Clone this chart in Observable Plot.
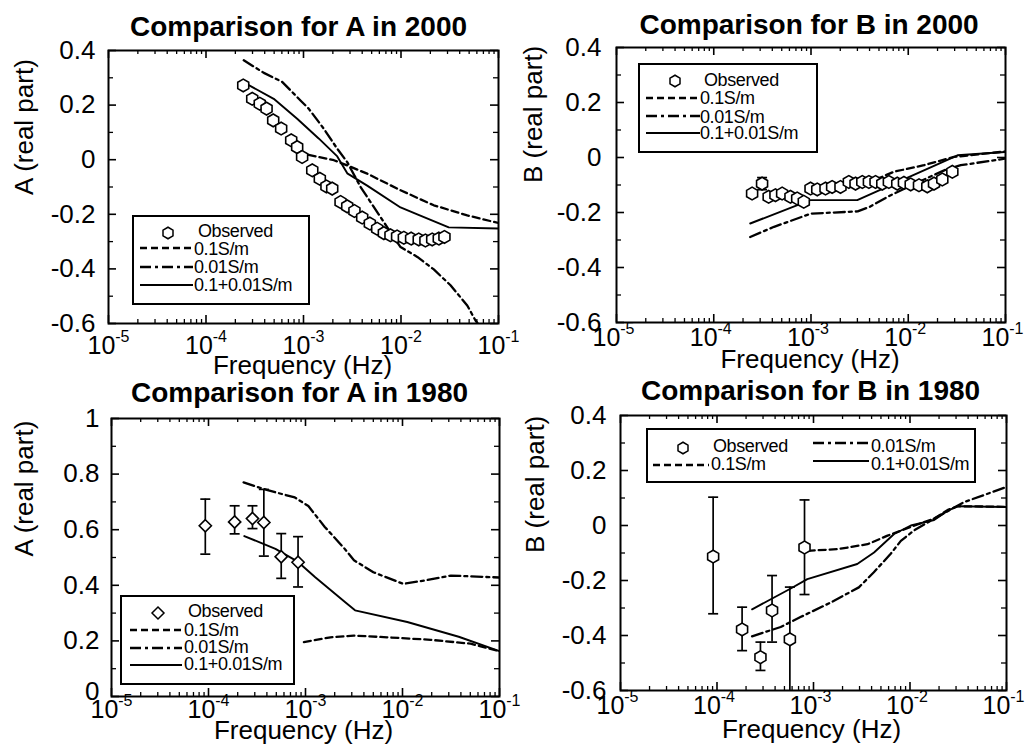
<!DOCTYPE html>
<html><head><meta charset="utf-8">
<script src="https://cdn.jsdelivr.net/npm/d3@7"></script>
<script src="https://cdn.jsdelivr.net/npm/@observablehq/plot@0.6"></script>
<style>
body{margin:0;background:#fff;}
#root{position:relative;width:1027px;height:746px;overflow:hidden;background:#fff;font-family:"Liberation Sans",Arial,sans-serif;}
.panel{position:absolute;}
.legend{position:absolute;}
</style></head><body><div id="root"></div>
<script>
// ---------- shared axis data ----------
const seriesNames = ["Observed", "0.1S/m", "0.01S/m", "0.1+0.01S/m"];
const decadeTicks = [1e-5, 1e-4, 1e-3, 1e-2, 1e-1];
const minorMult = [2, 3, 4, 5, 6, 7, 8, 9];
const yTicksB = [-0.6, -0.4, -0.2, 0, 0.2, 0.4];
const yMinorB = [-0.5, -0.3, -0.1, 0.1, 0.3];
const yTicksA80 = [0, 0.2, 0.4, 0.6, 0.8, 1];
const yMinorA80 = [0.1, 0.3, 0.5, 0.7, 0.9];

// ---------- A in 2000 ----------
const a2000ObsF = [2.41e-4,2.98e-4,3.56e-4,4.18e-4,4.89e-4,5.90e-4,7.48e-4,8.61e-4,9.68e-4,1.23e-3,1.47e-3,1.72e-3,1.97e-3,2.40e-3,2.81e-3,3.33e-3,4.00e-3,4.79e-3,5.70e-3,6.67e-3,7.80e-3,9.12e-3,1.07e-2,1.27e-2,1.52e-2,1.78e-2,2.09e-2,2.44e-2,2.79e-2];
const a2000ObsV = [0.272,0.223,0.205,0.187,0.144,0.114,0.071,0.046,0.010,-0.039,-0.070,-0.098,-0.106,-0.155,-0.171,-0.188,-0.212,-0.234,-0.253,-0.269,-0.277,-0.281,-0.286,-0.289,-0.292,-0.296,-0.292,-0.289,-0.283];
const a2000S1F = [1.13e-3,2.05e-3,2.81e-3,4.50e-3,9.89e-3,2.17e-2,4.78e-2,1e-1];
const a2000S1V = [0.018,-0.002,-0.021,-0.051,-0.112,-0.167,-0.204,-0.232];
const a2000S2F = [2.44e-4,3.92e-4,6.04e-4,9.31e-4,1.13e-3,1.61e-3,2.22e-3,2.81e-3,3.85e-3,5.70e-3,7.21e-3,9.89e-3,1.47e-2,2.17e-2,3.22e-2,4.78e-2,5.81e-2,1e-1];
const a2000S2V = [0.364,0.318,0.285,0.217,0.187,0.114,0.040,-0.009,-0.100,-0.192,-0.247,-0.320,-0.356,-0.402,-0.460,-0.534,-0.589,-0.700];
const a2000S3F = [2.44e-4,4.95e-4,8.61e-4,1.44e-3,2.22e-3,2.81e-3,4.50e-3,9.89e-3,1.47e-2,3.09e-2,1e-1];
const a2000S3V = [0.283,0.223,0.150,0.077,0.012,-0.050,-0.095,-0.175,-0.200,-0.248,-0.252];

// ---------- B in 2000 ----------
const b2000ObsF = [2.48e-4,3.14e-4,3.67e-4,4.31e-4,5.05e-4,6.15e-4,7.21e-4,8.43e-4,9.89e-4,1.16e-3,1.41e-3,1.65e-3,2.01e-3,2.45e-3,2.87e-3,3.37e-3,3.94e-3,4.61e-3,5.41e-3,6.32e-3,7.71e-3,9.03e-3,1.06e-2,1.29e-2,1.57e-2,1.84e-2,2.24e-2,2.84e-2];
const b2000ObsV = [-0.131,-0.095,-0.143,-0.137,-0.131,-0.143,-0.149,-0.161,-0.113,-0.116,-0.113,-0.107,-0.107,-0.089,-0.095,-0.089,-0.089,-0.089,-0.095,-0.089,-0.095,-0.092,-0.098,-0.101,-0.105,-0.095,-0.080,-0.052];
const b2000ErrF = [3.14e-4];
const b2000ErrLo = [-0.117];
const b2000ErrHi = [-0.073];
const b2000S1F = [1e-3,2.51e-3,5.01e-3,7.08e-3,1.45e-2,2.95e-2,1e-1];
const b2000S1V = [-0.125,-0.100,-0.075,-0.052,-0.028,0.002,0.022];
const b2000S2F = [2.37e-4,4.17e-4,1e-3,3.02e-3,3.98e-3,6.61e-3,1.26e-2,2.51e-2,3.47e-2,1e-1];
const b2000S2V = [-0.289,-0.252,-0.204,-0.196,-0.180,-0.137,-0.090,-0.042,-0.028,-0.004];
const b2000S3F = [2.37e-4,9.82e-4,2.99e-3,3.21e-2,1e-1];
const b2000S3V = [-0.240,-0.155,-0.155,0.008,0.020];

// ---------- A in 1980 ----------
const a1980ObsF = [9.27e-5,1.86e-4,2.84e-4,3.72e-4,5.62e-4,8.38e-4];
const a1980ObsV = [0.614,0.628,0.640,0.626,0.503,0.483];
const a1980ErrHi = [0.710,0.686,0.686,0.745,0.586,0.575];
const a1980ErrLo = [0.512,0.585,0.604,0.505,0.425,0.394];
const a1980S1F = [9.62e-4,1.81e-3,3.15e-3,6.95e-3,1.95e-2,5.02e-2,1e-1];
const a1980S1V = [0.196,0.213,0.219,0.213,0.204,0.190,0.163];
const a1980S2F = [2.30e-4,4.07e-4,7.76e-4,1.07e-3,1.58e-3,2.51e-3,3.16e-3,5.01e-3,1.02e-2,1.74e-2,3.16e-2,1e-1];
const a1980S2V = [0.770,0.742,0.716,0.685,0.610,0.533,0.490,0.447,0.405,0.418,0.435,0.428];
const a1980S3F = [2.34e-4,4.90e-4,8.32e-4,1.26e-3,2.57e-3,3.24e-3,1.12e-2,3.80e-2,1e-1];
const a1980S3V = [0.577,0.531,0.485,0.429,0.339,0.310,0.268,0.215,0.163];

// ---------- B in 1980 ----------
const b1980ObsF = [9.12e-5,1.82e-4,2.82e-4,3.72e-4,5.69e-4,8.07e-4];
const b1980ObsV = [-0.113,-0.378,-0.479,-0.309,-0.414,-0.080];
const b1980ErrHi = [0.103,-0.297,-0.424,-0.182,-0.224,0.093];
const b1980ErrLo = [-0.321,-0.455,-0.527,-0.424,-0.650,-0.251];
const b1980S1F = [8.71e-4,1.78e-3,3.63e-3,5.85e-3,1.10e-2,1.78e-2,2.51e-2,3.16e-2,1e-1];
const b1980S1V = [-0.092,-0.086,-0.068,-0.037,-0.001,0.025,0.058,0.070,0.068];
const b1980S2F = [2.31e-4,4.57e-4,7.33e-4,1.51e-3,2.95e-3,4.22e-3,6.31e-3,8.04e-3,1.10e-2,1.78e-2,2.63e-2,3.63e-2,1e-1];
const b1980S2V = [-0.403,-0.369,-0.333,-0.280,-0.225,-0.170,-0.103,-0.056,-0.018,0.025,0.058,0.085,0.140];
const b1980S3F = [2.31e-4,5.75e-4,8.63e-4,2.84e-3,4.24e-3,6.84e-3,1.02e-2,1.78e-2,2.42e-2,3.08e-2,1e-1];
const b1980S3V = [-0.305,-0.230,-0.195,-0.140,-0.098,-0.031,0.000,0.020,0.052,0.070,0.067];

// ---------- helpers ----------
const xMinorTicks = decadeTicks.slice(0, 4).flatMap(d => minorMult.map(m => m * d));
const rows = (F, V) => F.map((f, i) => ({f, v: V[i]}));
const errRows = (F, lo, hi) => F.map((f, i) => ({f, lo: lo[i], hi: hi[i]}));
const DASH = "7,4", DASHDOT = "11,4,3,4";
const capSymbol = {draw(ctx) { ctx.moveTo(-5, 0); ctx.lineTo(5, 0); }};
const root = document.getElementById("root");

function panel(c) {
  const iw = c.width - c.ml - c.mr, ih = c.height - c.mt - c.mb;
  const marks = [
    Plot.axisX({ticks: decadeTicks, tickFormat: d => String(Math.round(Math.log10(d))), tickSize: 0, tickPadding: c.xPad, dx: c.xTickDx || 0, fontSize: 25, label: null}),
    Plot.axisY({ticks: c.yTicks, tickFormat: d => String(d), tickSize: 0, tickPadding: c.yPad, fontSize: 26, label: null}),
    Plot.tickX(decadeTicks, {x: d => d, insetTop: ih - 8, strokeWidth: 1.6}),
    Plot.tickX(decadeTicks, {x: d => d, insetBottom: ih - 8, strokeWidth: 1.6}),
    Plot.tickX(xMinorTicks, {x: d => d, insetTop: ih - 4, strokeWidth: 1.3}),
    Plot.tickX(xMinorTicks, {x: d => d, insetBottom: ih - 4, strokeWidth: 1.3}),
    Plot.tickY(c.yTicks, {y: d => d, insetRight: iw - 8, strokeWidth: 1.6}),
    Plot.tickY(c.yTicks, {y: d => d, insetLeft: iw - 8, strokeWidth: 1.6}),
    Plot.tickY(c.yMinor, {y: d => d, insetRight: iw - 5, strokeWidth: 1.3}),
    Plot.tickY(c.yMinor, {y: d => d, insetLeft: iw - 5, strokeWidth: 1.3}),
    Plot.line(rows(c.s1F, c.s1V), {x: "f", y: "v", stroke: "black", strokeWidth: 2.3, strokeDasharray: DASH, clip: true}),
    Plot.line(rows(c.s2F, c.s2V), {x: "f", y: "v", stroke: "black", strokeWidth: 2.3, strokeDasharray: DASHDOT, clip: true}),
    Plot.line(rows(c.s3F, c.s3V), {x: "f", y: "v", stroke: "black", strokeWidth: 1.9, clip: true})
  ];
  if (c.err) {
    const e = errRows(c.err[0], c.err[1], c.err[2]);
    marks.push(
      Plot.ruleX(e, {x: "f", y1: "lo", y2: "hi", stroke: "black", strokeWidth: 1.7, clip: true}),
      Plot.dot(e, {x: "f", y: "lo", symbol: capSymbol, r: 3, stroke: "black", strokeWidth: 1.7, fill: "none", clip: true}),
      Plot.dot(e, {x: "f", y: "hi", symbol: capSymbol, r: 3, stroke: "black", strokeWidth: 1.7, fill: "none", clip: true})
    );
  }
  marks.push(
    Plot.dot(rows(c.obsF, c.obsV), {x: "f", y: "v", symbol: c.symbol, r: 5.5, fill: "white", stroke: "black", strokeWidth: 1.6}),
    Plot.frame({stroke: "black", strokeWidth: 2}),
    Plot.text([c.title], {text: d => d, frameAnchor: "top", lineAnchor: "bottom", dy: c.titleDy, dx: c.titleDx, fontSize: 28, fontWeight: "bold"}),
    Plot.text([c.ylabel], {text: d => d, frameAnchor: "left", rotate: -90, dx: c.ylabelDx, dy: c.ylabelDy, fontSize: 26}),
    Plot.text(["Frequency (Hz)"], {text: d => d, frameAnchor: "bottom", lineAnchor: "bottom", dy: c.xlabelDy, dx: c.xlabelDx, fontSize: 26})
  );
  const svg = Plot.plot({
    width: c.width, height: c.height,
    marginLeft: c.ml, marginRight: c.mr, marginTop: c.mt, marginBottom: c.mb,
    x: {type: "log", domain: [1e-5, 1e-1]},
    y: {domain: c.yDomain},
    style: {background: "transparent", overflow: "visible", fontFamily: "'Liberation Sans', Arial, sans-serif", color: "black"},
    marks
  });
  d3.select(svg).selectAll('[aria-label="x-axis tick label"] text').each(function() {
    const ex = this.textContent;
    this.textContent = "";
    d3.select(this).append("tspan").text("10");
    d3.select(this).append("tspan").attr("dy", -12).attr("font-size", "16px").text(ex);
  });
  if (c.raiseZero) {
    d3.select(svg).selectAll('[aria-label="y-axis tick label"] text')
      .filter(function() { return this.textContent === "0"; })
      .attr("dy", null).attr("y", -c.raiseZero).attr("dy", "0.32em");
  }
  const div = document.createElement("div");
  div.className = "panel";
  div.style.left = c.left + "px";
  div.style.top = c.top + "px";
  div.style.width = c.width + "px";
  div.appendChild(svg);
  root.appendChild(div);
}

function hexPath(cx, cy, r) {
  const ry = r * 2 / Math.sqrt(3), hy = ry / 2;
  return `M${cx},${cy + ry}L${cx + r},${cy + hy}L${cx + r},${cy - hy}L${cx},${cy - ry}L${cx - r},${cy - hy}L${cx - r},${cy + hy}Z`;
}
function diamondPath(cx, cy, r) {
  return `M${cx},${cy - r}L${cx + r},${cy}L${cx},${cy + r}L${cx - r},${cy}Z`;
}

function legend(L) {
  const svg = d3.create("svg").attr("width", L.w).attr("height", L.h)
    .style("position", "absolute").style("left", L.left + "px").style("top", L.top + "px")
    .style("font-family", "'Liberation Sans', Arial, sans-serif").style("font-size", "18px");
  svg.append("rect").attr("x", 1).attr("y", 1).attr("width", L.w - 2).attr("height", L.h - 2)
    .attr("fill", "white").attr("stroke", "black").attr("stroke-width", 2);
  const o = L.obs;
  svg.append("path").attr("d", L.diamond ? diamondPath(o.x, o.y, 6) : hexPath(o.x, o.y, 5))
    .attr("fill", "white").attr("stroke", "black").attr("stroke-width", 1.5);
  svg.append("text").attr("x", o.tx).attr("y", o.ty).text(seriesNames[0]).attr("letter-spacing", "-0.4");
  const dashes = [DASH, DASHDOT, null];
  L.lines.forEach((ln, i) => {
    svg.append("line").attr("x1", ln.x1).attr("x2", ln.x2).attr("y1", ln.y).attr("y2", ln.y)
      .attr("stroke", "black").attr("stroke-width", i === 2 ? 1.9 : 2.3)
      .attr("stroke-dasharray", dashes[i]);
    svg.append("text").attr("x", ln.tx).attr("y", ln.ty).text(seriesNames[i + 1]).attr("letter-spacing", "-0.4");
  });
  root.appendChild(svg.node());
}

// ---------- panels ----------
panel({left: 0, top: 0, width: 513, height: 373, ml: 108, mr: 15, mt: 50, mb: 50,
  yDomain: [-0.6, 0.4], yTicks: yTicksB, yMinor: yMinorB, xPad: 13, yPad: 13,
  obsF: a2000ObsF, obsV: a2000ObsV, symbol: "hexagon",
  s1F: a2000S1F, s1V: a2000S1V, s2F: a2000S2F, s2V: a2000S2V, s3F: a2000S3F, s3V: a2000S3V,
  title: "Comparison for A in 2000", titleDx: -5, titleDy: -15,
  ylabel: "A (real part)", ylabelDx: -84, ylabelDy: 8, xlabelDy: 50, xlabelDx: -1});

panel({left: 513, top: 0, width: 514, height: 373, ml: 103, mr: 22, mt: 47, mb: 51,
  yDomain: [-0.6, 0.4], yTicks: yTicksB, yMinor: yMinorB, xPad: 6, yPad: 15, xTickDx: -3,
  obsF: b2000ObsF, obsV: b2000ObsV, symbol: "hexagon", err: [b2000ErrF, b2000ErrLo, b2000ErrHi],
  s1F: b2000S1F, s1V: b2000S1V, s2F: b2000S2F, s2V: b2000S2V, s3F: b2000S3F, s3V: b2000S3V,
  title: "Comparison for B in 2000", titleDx: -2, titleDy: -14,
  ylabel: "B (real part)", ylabelDx: -83, ylabelDy: -2, xlabelDy: 45, xlabelDx: -1});

panel({left: 0, top: 373, width: 513, height: 373, ml: 111, mr: 14, mt: 45, mb: 50,
  yDomain: [0, 1], yTicks: yTicksA80, yMinor: yMinorA80, xPad: 4, yPad: 12, raiseZero: 5,
  obsF: a1980ObsF, obsV: a1980ObsV, symbol: "diamond2", err: [a1980ObsF, a1980ErrLo, a1980ErrHi],
  s1F: a1980S1F, s1V: a1980S1V, s2F: a1980S2F, s2V: a1980S2V, s3F: a1980S3F, s3V: a1980S3V,
  title: "Comparison for A in 1980", titleDx: -6, titleDy: -17,
  ylabel: "A (real part)", ylabelDx: -87, ylabelDy: -1, xlabelDy: 42, xlabelDx: -2});

panel({left: 513, top: 373, width: 514, height: 373, ml: 107, mr: 21, mt: 42, mb: 56,
  yDomain: [-0.6, 0.4], yTicks: yTicksB, yMinor: yMinorB, xPad: 6, yPad: 14, xTickDx: -3,
  obsF: b1980ObsF, obsV: b1980ObsV, symbol: "hexagon", err: [b1980ObsF, b1980ErrLo, b1980ErrHi],
  s1F: b1980S1F, s1V: b1980S1V, s2F: b1980S2F, s2V: b1980S2V, s3F: b1980S3F, s3V: b1980S3V,
  title: "Comparison for B in 1980", titleDx: -3, titleDy: -16,
  ylabel: "B (real part)", ylabelDx: -85, ylabelDy: 0, xlabelDy: 47, xlabelDx: -2});

// ---------- legends ----------
legend({left: 132, top: 215, w: 178, h: 90,
  obs: {x: 36, y: 18, tx: 66, ty: 22},
  lines: [{x1: 8, x2: 61, y: 33, tx: 62, ty: 40}, {x1: 8, x2: 61, y: 52, tx: 62, ty: 58}, {x1: 8, x2: 61, y: 70, tx: 62, ty: 76}]});
legend({left: 638, top: 63, w: 180, h: 90,
  obs: {x: 37, y: 18, tx: 66, ty: 23},
  lines: [{x1: 8, x2: 62, y: 35, tx: 62, ty: 41}, {x1: 8, x2: 62, y: 53, tx: 62, ty: 60}, {x1: 8, x2: 62, y: 70, tx: 62, ty: 76}]});
legend({left: 120, top: 595, w: 175, h: 90, diamond: true,
  obs: {x: 38, y: 18, tx: 68, ty: 22},
  lines: [{x1: 10, x2: 62, y: 35, tx: 64, ty: 41}, {x1: 10, x2: 62, y: 53, tx: 64, ty: 58}, {x1: 10, x2: 62, y: 70, tx: 64, ty: 75}]});
legend({left: 646, top: 428, w: 330, h: 55,
  obs: {x: 37, y: 20, tx: 67, ty: 24},
  lines: [{x1: 7, x2: 63, y: 37, tx: 65, ty: 42}, {x1: 167, x2: 223, y: 15, tx: 225, ty: 24}, {x1: 167, x2: 223, y: 33, tx: 225, ty: 42}]});
</script></body></html>
